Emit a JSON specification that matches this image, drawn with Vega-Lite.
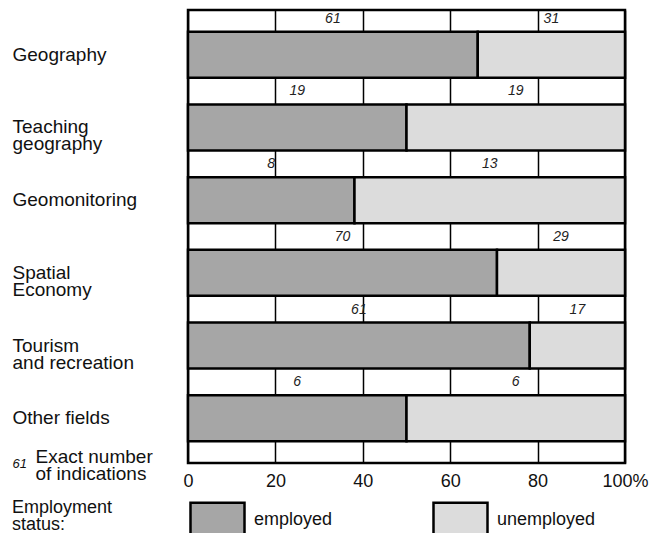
{
  "$schema": "https://vega.github.io/schema/vega-lite/v6.json",
  "width": 437,
  "height": 453,
  "autosize": "none",
  "padding": {"left": 188, "top": 10, "right": 28, "bottom": 70},
  "background": "white",
  "config": {
    "font": "Liberation Sans",
    "view": {"stroke": "black", "strokeWidth": 2.5},
    "axis": {"labelColor": "#111", "titleColor": "#111", "domain": false, "ticks": false}
  },
  "data": {
    "values": [
      {"field": "Geography", "status": "employed", "count": 61},
      {"field": "Geography", "status": "unemployed", "count": 31},
      {"field": "Teaching geography", "status": "employed", "count": 19},
      {"field": "Teaching geography", "status": "unemployed", "count": 19},
      {"field": "Geomonitoring", "status": "employed", "count": 8},
      {"field": "Geomonitoring", "status": "unemployed", "count": 13},
      {"field": "Spatial Economy", "status": "employed", "count": 70},
      {"field": "Spatial Economy", "status": "unemployed", "count": 29},
      {"field": "Tourism and recreation", "status": "employed", "count": 61},
      {"field": "Tourism and recreation", "status": "unemployed", "count": 17},
      {"field": "Other fields", "status": "employed", "count": 6},
      {"field": "Other fields", "status": "unemployed", "count": 6}
    ]
  },
  "transform": [
    {"stack": "count", "groupby": ["field"], "sort": [{"field": "status", "order": "ascending"}], "offset": "normalize", "as": ["x0", "x1"]},
    {"calculate": "(datum.x0 + datum.x1) / 2", "as": "mid"}
  ],
  "encoding": {
    "y": {
      "field": "field",
      "type": "nominal",
      "sort": null,
      "scale": {"paddingInner": 0, "paddingOuter": 0.116},
      "axis": {
        "grid": false,
        "labelAlign": "left",
        "labelBaseline": "middle",
        "labelPadding": 176,
        "labelFontSize": 19,
        "labelLineHeight": 17,
        "labelLimit": 200,
        "labelExpr": "indexof(datum.label, ' ') < 0 || datum.label == 'Other fields' ? datum.label : [slice(datum.label, 0, indexof(datum.label, ' ')), slice(datum.label, indexof(datum.label, ' ') + 1)]",
        "title": "61",
        "titleAngle": 0,
        "titleX": -176,
        "titleY": 453,
        "titleAlign": "left",
        "titleBaseline": "middle",
        "titleFontSize": 13,
        "titleFontStyle": "italic",
        "titleFontWeight": "normal"
      }
    }
  },
  "layer": [
    {
      "mark": {"type": "bar", "height": 46, "stroke": "black", "strokeWidth": 2.5, "opacity": 1},
      "encoding": {
        "x": {
          "field": "x0",
          "type": "quantitative",
          "scale": {"domain": [0, 1], "nice": false},
          "axis": {
            "values": [0, 0.2, 0.4, 0.6, 0.8, 1],
            "grid": true,
            "gridColor": "black",
            "gridWidth": 1.5,
            "gridOpacity": 1,
            "labelFontSize": 18,
            "labelPadding": 9,
            "labelFlush": false,
            "labelExpr": "datum.value == 1 ? '100%' : format(datum.value * 100, 'd')",
            "title": ["Exact number", "of indications"],
            "titleX": -153,
            "titleY": -16,
            "titleAlign": "left",
            "titleBaseline": "top",
            "titleFontSize": 19,
            "titleFontWeight": "normal",
            "titleLineHeight": 17
          }
        },
        "x2": {"field": "x1"},
        "color": {
          "field": "status",
          "type": "nominal",
          "scale": {"domain": ["employed", "unemployed"], "range": ["#a6a6a6", "#dcdcdc"]},
          "legend": {
            "orient": "none",
            "legendX": -176,
            "legendY": 481,
            "direction": "horizontal",
            "padding": 0,
            "title": ["Employment", "status:"],
            "titleOrient": "left",
            "titleAnchor": "middle",
            "titleFontSize": 18,
            "titleFontWeight": "normal",
            "titleLineHeight": 17,
            "titleColor": "#111",
            "titlePadding": 76,
            "symbolType": "M-1,-0.63H1V0.63H-1Z",
            "symbolSize": 2916,
            "symbolStrokeColor": "black",
            "symbolStrokeWidth": 2.5,
            "symbolOpacity": 1,
            "labelFontSize": 18,
            "labelColor": "#111",
            "labelOffset": 8,
            "columnPadding": 95
          }
        }
      }
    },
    {
      "mark": {"type": "text", "dy": -36, "fontStyle": "italic", "fontSize": 14, "color": "#222", "baseline": "middle"},
      "encoding": {
        "x": {"field": "mid", "type": "quantitative"},
        "text": {"field": "count", "type": "quantitative"}
      }
    }
  ]
}
